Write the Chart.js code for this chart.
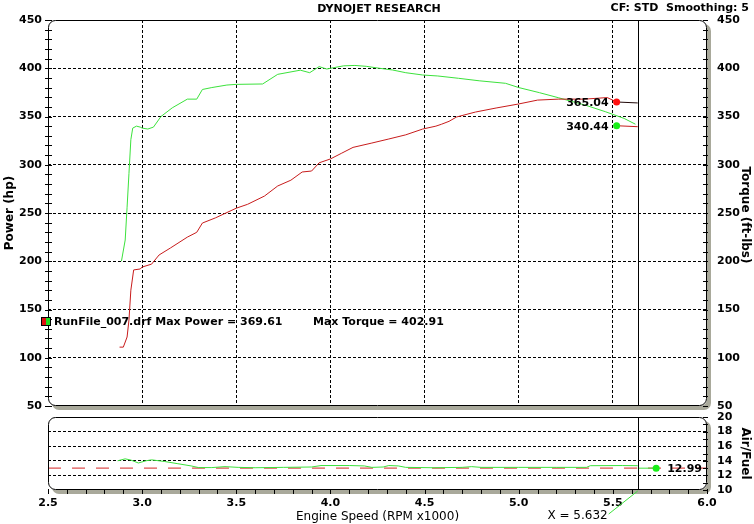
<!DOCTYPE html>
<html>
<head>
<meta charset="utf-8">
<script src="https://cdn.jsdelivr.net/npm/chart.js@4.4.1/dist/chart.umd.min.js"></script>
<style>
  html, body { margin: 0; padding: 0; background: #fff; }
  #wrap { position: relative; width: 754px; height: 524px; }
  #main { position: absolute; left: 0; top: 0; }
  #afr { position: absolute; left: 0; top: 398px; }
</style>
</head>
<body>
<div id="wrap">
  <canvas id="main" width="754" height="424" style="width:754px;height:424px"></canvas>
  <canvas id="afr" width="754" height="126" style="width:754px;height:126px"></canvas>
</div>
<script>
// dyno run (RPM x1000)
const powerRpm = [2.88, 2.90, 2.92, 2.93, 2.94, 2.955, 2.99, 3.00, 3.05, 3.09, 3.15, 3.24, 3.29, 3.32, 3.39, 3.50, 3.56, 3.65, 3.72, 3.79, 3.85, 3.90, 3.94, 4.00, 4.06, 4.12, 4.22, 4.31, 4.40, 4.49, 4.56, 4.59, 4.63, 4.67, 4.77, 4.88, 5.00, 5.10, 5.21, 5.35, 5.47, 5.52];
const powerHp = [111, 111, 121.5, 139, 170, 191, 192, 194, 197, 206.5, 213.7, 225, 230, 239.6, 245, 255, 259, 267.6, 278, 284, 292.5, 293.5, 302, 306, 312, 318, 322.5, 326.7, 331, 337, 340, 342, 345, 349.5, 354.6, 358.8, 363, 367, 368, 368, 369.61, 365.04];

const torqueRpm = [2.89, 2.91, 2.92, 2.93, 2.94, 2.95, 2.97, 2.99, 3.00, 3.03, 3.06, 3.10, 3.16, 3.24, 3.29, 3.32, 3.37, 3.45, 3.50, 3.64, 3.72, 3.84, 3.89, 3.94, 3.98, 4.07, 4.13, 4.19, 4.26, 4.33, 4.40, 4.49, 4.57, 4.68, 4.79, 4.93, 5.00, 5.11, 5.21, 5.35, 5.46, 5.56, 5.62];
const torqueFtlb = [200, 222, 256, 291, 326, 338, 340, 339, 338, 337, 339, 350, 359, 368, 368, 378, 380, 382.6, 383.3, 383.7, 393.7, 398, 395.4, 401.7, 399.2, 402.5, 402.91, 402, 400, 398.2, 395.4, 393, 392, 389.6, 387, 384.4, 380, 374.7, 369.5, 362, 355, 348, 342];

const afrRpm = [2.87, 2.91, 2.94, 2.98, 3.02, 3.05, 3.12, 3.19, 3.26, 3.30, 3.37, 3.44, 3.51, 3.60, 3.75, 3.90, 3.95, 4.10, 4.18, 4.22, 4.28, 4.31, 4.36, 4.40, 4.55, 4.70, 4.75, 4.80, 5.00, 5.20, 5.36, 5.38, 5.55, 5.632];
const afrRatio = [14.0, 14.27, 14.1, 13.7, 14.0, 14.13, 13.9, 13.6, 13.3, 13.07, 13.07, 13.2, 13.1, 13.05, 13.1, 13.15, 13.35, 13.35, 13.3, 13.1, 13.15, 13.35, 13.3, 13.1, 13.05, 13.1, 13.2, 13.1, 13.1, 13.1, 13.1, 13.33, 13.35, 13.33];
const afrTarget = 13.0;

// run summary and cursor readout
const maxPower = 369.61;
const maxTorque = 402.91;
const cursorRpm = 5.632;
const markerRpm = 5.52;
const afrMarkerRpm = 5.73;
const powerAtCursor = 365.04;
const torqueAtCursor = 340.44;
const afrAtCursor = 12.99;

const rpmMin = 2.5, rpmMax = 6.0;
const powerTicks = [50, 100, 150, 200, 250, 300, 350, 400, 450];
const afrTicks = [10, 12, 14, 16, 18, 20];

const RED = '#c81c1c';
const GREEN = '#3ce23c';
const SHADOW = '#a9a99b';
const FONT = 'DejaVu Sans';

Chart.defaults.font.family = FONT;
Chart.defaults.color = '#000';

const pts = (xs, ys) => xs.map((x, i) => ({ x, y: ys[i] }));

function roundRectPath(ctx, x, y, w, h, r) {
  ctx.beginPath();
  ctx.moveTo(x + r, y);
  ctx.arcTo(x + w, y, x + w, y + h, r);
  ctx.arcTo(x + w, y + h, x, y + h, r);
  ctx.arcTo(x, y + h, x, y, r);
  ctx.arcTo(x, y, x + w, y, r);
  ctx.closePath();
}

// white panel with a grey drop shadow, drawn under the grid
const panelPlugin = {
  id: 'panel',
  beforeDraw(chart) {
    const a = chart.chartArea, ctx = chart.ctx;
    ctx.save();
    roundRectPath(ctx, a.left + 4, a.top + 4, a.width, a.height, 7);
    ctx.fillStyle = SHADOW;
    ctx.fill();
    roundRectPath(ctx, a.left, a.top, a.width, a.height, 7);
    ctx.fillStyle = '#fff';
    ctx.fill();
    ctx.restore();
  }
};

function strokeFrame(chart) {
  const a = chart.chartArea, ctx = chart.ctx;
  ctx.save();
  roundRectPath(ctx, a.left + 0.5, a.top + 0.5, a.width - 1, a.height - 1, 7);
  ctx.strokeStyle = '#000';
  ctx.lineWidth = 1;
  ctx.stroke();
  ctx.restore();
}

function drawCursor(chart) {
  const a = chart.chartArea, ctx = chart.ctx;
  const x = Math.round(chart.scales.x.getPixelForValue(cursorRpm)) + 0.5;
  ctx.save();
  ctx.strokeStyle = '#000';
  ctx.lineWidth = 1;
  ctx.beginPath();
  ctx.moveTo(x, a.top);
  ctx.lineTo(x, a.bottom);
  ctx.stroke();
  ctx.restore();
}

function hLine(ctx, x1, x2, y) {
  ctx.beginPath();
  ctx.moveTo(x1, y);
  ctx.lineTo(x2, y);
  ctx.stroke();
}

const mainDecor = {
  id: 'mainDecor',
  afterDraw(chart) {
    const a = chart.chartArea, ctx = chart.ctx;
    const ys = chart.scales.y;
    strokeFrame(chart);

    // tick rulers, every 10 units
    ctx.save();
    ctx.strokeStyle = '#000';
    ctx.lineWidth = 1;
    for (let v = 50; v <= 450; v += 10) {
      const y = Math.round(ys.getPixelForValue(v)) + 0.5;
      hLine(ctx, a.left - 3, a.left + 4, y);
      hLine(ctx, a.right - 4, a.right + 1, y);
    }
    ctx.restore();

    drawCursor(chart);

    ctx.save();
    ctx.fillStyle = '#000';
    ctx.font = 'bold 11px "' + FONT + '"';
    ctx.textBaseline = 'middle';

    // cursor readouts
    const mx = chart.scales.x.getPixelForValue(markerRpm) - 8;
    ctx.textAlign = 'right';
    ctx.fillText(powerAtCursor.toFixed(2), mx, ys.getPixelForValue(powerAtCursor) + 1);
    ctx.fillText(torqueAtCursor.toFixed(2), mx, ys.getPixelForValue(torqueAtCursor) + 1);

    // run legend
    ctx.textAlign = 'left';
    ctx.fillText('RunFile_007.drf Max Power = ' + maxPower.toFixed(2), 54, 322);
    ctx.fillText('Max Torque = ' + maxTorque.toFixed(2), 313, 322);
    ctx.fillStyle = '#e01010';
    ctx.fillRect(41, 317, 5, 9);
    ctx.fillStyle = '#22dd22';
    ctx.fillRect(46, 317, 5, 9);
    ctx.strokeStyle = '#000';
    ctx.strokeRect(41.5, 317.5, 9, 8);

    // header
    ctx.fillStyle = '#000';
    ctx.textAlign = 'center';
    ctx.fillText('DYNOJET RESEARCH', 379, 9);
    ctx.textAlign = 'right';
    ctx.fillText('CF: STD  Smoothing: 5', 749, 8);

    // axis titles
    ctx.font = 'bold 12px "' + FONT + '"';
    ctx.textAlign = 'center';
    ctx.save();
    ctx.translate(10, 213);
    ctx.rotate(-Math.PI / 2);
    ctx.fillText('Power (hp)', 0, 0);
    ctx.restore();
    ctx.save();
    ctx.translate(745, 215);
    ctx.rotate(Math.PI / 2);
    ctx.fillText('Torque (ft-lbs)', 0, 0);
    ctx.restore();
    ctx.restore();
  }
};

const afrDecor = {
  id: 'afrDecor',
  afterDraw(chart) {
    const a = chart.chartArea, ctx = chart.ctx;
    const xs = chart.scales.x, ys = chart.scales.y;
    strokeFrame(chart);

    ctx.save();
    ctx.strokeStyle = '#000';
    ctx.lineWidth = 1;
    for (let v = 10; v <= 20; v += 1) {
      const y = Math.round(ys.getPixelForValue(v)) + 0.5;
      hLine(ctx, a.right - 4, a.right + 1, y);
    }
    for (let i = 25; i <= 60; i++) {
      const x = Math.round(xs.getPixelForValue(i / 10)) + 0.5;
      ctx.beginPath();
      ctx.moveTo(x, a.bottom - 1);
      ctx.lineTo(x, a.bottom + 4);
      ctx.stroke();
    }
    ctx.restore();

    drawCursor(chart);

    // leader from the cursor foot to the X readout
    const cx = xs.getPixelForValue(cursorRpm);
    ctx.save();
    ctx.strokeStyle = GREEN;
    ctx.lineWidth = 1;
    ctx.beginPath();
    ctx.moveTo(cx, a.bottom + 1);
    ctx.lineTo(cx - 29, a.bottom + 24);
    ctx.stroke();

    ctx.fillStyle = '#000';
    ctx.textBaseline = 'middle';
    ctx.textAlign = 'left';
    ctx.font = 'bold 11px "' + FONT + '"';
    ctx.fillText(afrAtCursor.toFixed(2), xs.getPixelForValue(afrMarkerRpm) + 11, ys.getPixelForValue(afrAtCursor) + 1);
    ctx.font = '12px "' + FONT + '"';
    ctx.textAlign = 'right';
    ctx.fillText('X = ' + cursorRpm.toFixed(3), cx - 30, a.bottom + 26);

    ctx.font = 'bold 12px "' + FONT + '"';
    ctx.textAlign = 'center';
    ctx.translate(745, ys.getPixelForValue(15));
    ctx.rotate(Math.PI / 2);
    ctx.fillText('Air/Fuel', 0, 0);
    ctx.restore();
  }
};

const dashedGrid = (edges) => ({
  color: (c) => (c.tick && edges.includes(c.tick.value)) ? 'rgba(0,0,0,0)' : '#000',
  lineWidth: 1,
  drawTicks: false
});

new Chart(document.getElementById('main'), {
  type: 'line',
  data: {
    datasets: [
      { type: 'scatter', data: [{ x: markerRpm, y: powerAtCursor }], pointRadius: 3.5, pointBorderWidth: 0, pointBackgroundColor: '#ff1010' },
      { type: 'scatter', data: [{ x: markerRpm, y: torqueAtCursor }], pointRadius: 3.5, pointBorderWidth: 0, pointBackgroundColor: '#18ee18' },
      { data: [{ x: markerRpm, y: powerAtCursor }, { x: cursorRpm, y: powerAtCursor - 1 }], borderColor: '#200808' },
      { data: [{ x: markerRpm, y: torqueAtCursor }, { x: cursorRpm, y: torqueAtCursor - 1 }], borderColor: RED },
      { label: 'Power', data: pts(powerRpm, powerHp), borderColor: RED },
      { label: 'Torque', data: pts(torqueRpm, torqueFtlb), borderColor: GREEN }
    ]
  },
  options: {
    responsive: false,
    animation: false,
    devicePixelRatio: 1,
    layout: { padding: { top: 20, bottom: 18, left: 0, right: 0 } },
    elements: {
      line: { borderWidth: 1, tension: 0 },
      point: { radius: 0 }
    },
    plugins: { legend: { display: false }, tooltip: { enabled: false } },
    scales: {
      x: {
        type: 'linear', min: rpmMin, max: rpmMax,
        ticks: { display: false, stepSize: 0.5 },
        grid: dashedGrid([rpmMin, rpmMax]),
        border: { display: false, dash: [3, 2] },
        afterFit: (s) => { s.height = 0; }
      },
      y: {
        position: 'left', min: 50, max: 450,
        ticks: { stepSize: 50, padding: 6, autoSkip: false, font: { size: 11, weight: 'bold' }, color: '#000',
          callback: (v) => powerTicks.includes(v) ? String(v) : '' },
        grid: dashedGrid([50, 450]),
        border: { display: false, dash: [3, 2] },
        afterFit: (s) => { s.width = 48; }
      },
      y2: {
        position: 'right', min: 50, max: 450,
        ticks: { stepSize: 50, padding: 10, autoSkip: false, font: { size: 11, weight: 'bold' }, color: '#000',
          callback: (v) => powerTicks.includes(v) ? String(v) : '' },
        grid: { display: false, drawTicks: false },
        border: { display: false },
        afterFit: (s) => { s.width = 47; }
      }
    }
  },
  plugins: [panelPlugin, mainDecor]
});

new Chart(document.getElementById('afr'), {
  type: 'line',
  data: {
    datasets: [
      { type: 'scatter', data: [{ x: afrMarkerRpm, y: afrAtCursor }], pointRadius: 3.5, pointBorderWidth: 0, pointBackgroundColor: '#18ee18' },
      { data: [{ x: cursorRpm, y: afrAtCursor }, { x: afrMarkerRpm, y: afrAtCursor }], borderColor: GREEN },
      { label: 'Air/Fuel', data: pts(afrRpm, afrRatio), borderColor: GREEN },
      { label: 'Target', data: [{ x: rpmMin, y: afrTarget }, { x: rpmMax, y: afrTarget }], borderColor: '#d42222', borderDash: [13, 11] }
    ]
  },
  options: {
    responsive: false,
    animation: false,
    devicePixelRatio: 1,
    layout: { padding: { top: 19, bottom: 0, left: 48, right: 0 } },
    elements: {
      line: { borderWidth: 1, tension: 0 },
      point: { radius: 0 }
    },
    plugins: { legend: { display: false }, tooltip: { enabled: false } },
    scales: {
      x: {
        type: 'linear', min: rpmMin, max: rpmMax,
        ticks: { stepSize: 0.5, padding: 7, font: { size: 11, weight: 'bold' }, color: '#000',
          callback: (v) => Number(v).toFixed(1) },
        grid: { display: false, drawTicks: false },
        border: { display: false },
        title: { display: true, text: 'Engine Speed (RPM x1000)', font: { size: 12 }, color: '#000', padding: 0 },
        afterFit: (s) => { s.height = 34; }
      },
      y: {
        position: 'right', min: 10, max: 20,
        ticks: { stepSize: 2, padding: 10, autoSkip: false, font: { size: 11, weight: 'bold' }, color: '#000',
          callback: (v) => afrTicks.includes(v) ? String(v) : '' },
        grid: dashedGrid([10, 20]),
        border: { display: false, dash: [3, 2] },
        afterFit: (s) => { s.width = 47; }
      }
    }
  },
  plugins: [panelPlugin, afrDecor]
});
</script>
</body>
</html>
